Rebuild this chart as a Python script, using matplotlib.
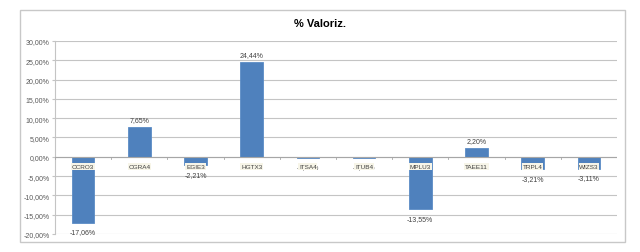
"""% Valoriz. bar chart (Excel-style), saved as out.png."""

import matplotlib

matplotlib.use("Agg")
import matplotlib.pyplot as plt
from matplotlib.patches import Rectangle
from matplotlib.ticker import FuncFormatter, MultipleLocator

TICKERS = ["CCRO3", "CGRA4", "EGIE3", "HGTX3", "ITSA4",
           "ITUB4", "MPLU3", "TAEE11", "TRPL4", "WIZS3"]
VALORIZ = [-17.06, 7.65, -2.21, 24.44, -0.30,
           -0.22, -13.55, 2.20, -3.21, -3.11]

BAR_COLOR = "#4f81bd"
GRID_COLOR = "#c4c4c4"
TEXT_COLOR = "#595959"
LABEL_BG = "#f7f5e8"

plt.rcParams["font.family"] = ["Liberation Sans", "DejaVu Sans"]


def _pct(v, _pos=None):
    return f"{v:.2f}%".replace(".", ",")


fig = plt.figure(figsize=(6.4, 2.53), dpi=100)
fig.patches.append(Rectangle((20 / 640, 1 - 243 / 253), 605 / 640, 232 / 253,
                             transform=fig.transFigure, fill=False,
                             edgecolor="#c8c8c8", linewidth=1.0))

ax = fig.add_axes([55 / 640, 1 - 235 / 253, 562 / 640, 193 / 253])
x = range(len(TICKERS))
ax.bar(x, VALORIZ, width=0.4, color=BAR_COLOR, edgecolor="#5b8cc6",
       linewidth=0.6, zorder=2)

ax.set_xlim(-0.5, len(TICKERS) - 0.5)
ax.set_ylim(-20, 30)
ax.yaxis.set_major_locator(MultipleLocator(5))
ax.yaxis.set_major_formatter(FuncFormatter(_pct))
ax.tick_params(axis="y", labelsize=5, colors=TEXT_COLOR, length=2,
               color=GRID_COLOR, pad=2)
ax.grid(axis="y", color=GRID_COLOR, linewidth=0.8, zorder=0)
for s in ["top", "right", "bottom"]:
    ax.spines[s].set_visible(False)
ax.spines["left"].set_color(GRID_COLOR)
ax.set_xticks([])

# category axis at zero with boundary ticks
ax.axhline(0, color="#a6a6a6", linewidth=0.8, zorder=3)
for b in range(len(TICKERS) + 1):
    ax.plot([b - 0.5, b - 0.5], [0, -0.6], color="#a6a6a6", linewidth=0.6,
            zorder=3)

for i, v in enumerate(VALORIZ):
    off = 3 if v > 0 else -4
    va = "bottom" if v > 0 else "top"
    ax.annotate(_pct(v), (i, v), xytext=(0, off), textcoords="offset points",
                ha="center", va=va, fontsize=5, color="#404040", zorder=4)
    ax.text(i, -2.5, TICKERS[i], ha="center", va="center", fontsize=4.6,
            color="#404040", zorder=5,
            bbox=dict(boxstyle="square,pad=0.1", facecolor=LABEL_BG,
                      edgecolor="none"))

fig.text(0.5, 1 - 24 / 253, "% Valoriz.", ha="center", va="center",
         fontsize=8, fontweight="bold", color="black")

fig.savefig("out.png", dpi=100)
